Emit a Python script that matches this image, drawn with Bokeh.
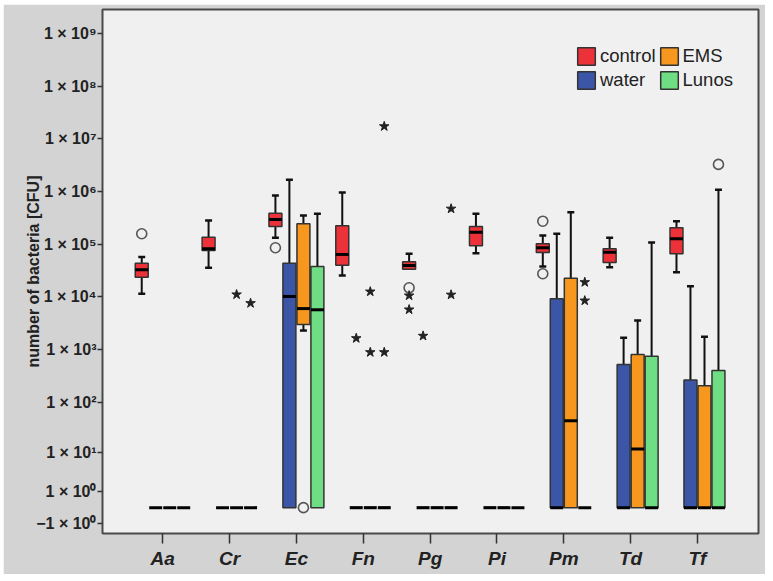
import math
from bokeh.plotting import figure
from bokeh.models import FixedTicker, Legend, LegendItem
from bokeh.embed import file_html
from bokeh.resources import INLINE

categories = ["Aa", "Cr", "Ec", "Fn", "Pg", "Pi", "Pm", "Td", "Tf"]
groups = ["control", "water", "EMS", "Lunos"]
group_colors = ["#ec3238", "#3b56a6", "#f7971e", "#6edd84"]

# five-number summaries in CFU (lower whisker, Q1, median, Q3, upper whisker)
control_low = [1.15e4, 3.57e4, 1.33e5, 2.55e4, 3.36e4, 6.76e4, 3.78e4, 3.66e4, 2.94e4]
control_q1 = [2.37e4, 7.6e4, 2.17e5, 4.0e4, 3.36e4, 9.35e4, 6.97e4, 4.5e4, 6.6e4]
control_med = [3.27e4, 8.2e4, 2.96e5, 6.4e4, 3.95e4, 1.69e5, 8.57e4, 7.06e4, 1.27e5]
control_q3 = [4.37e4, 1.36e5, 3.89e5, 2.24e5, 4.64e4, 2.17e5, 1.02e5, 8.2e4, 2.05e5]
control_high = [5.7e4, 2.83e5, 8.45e5, 9.6e5, 6.6e4, 3.79e5, 1.47e5, 1.33e5, 2.74e5]

water_low = [0, 0, 0, 0, 0, 0, 0, 0, 0]
water_q1 = [0, 0, 0, 0, 0, 0, 0, 0, 0]
water_med = [0, 0, 1.02e4, 0, 0, 0, 0, 0, 0]
water_q3 = [0, 0, 4.37e4, 0, 0, 0, 9.2e3, 518, 264]
water_high = [0, 0, 1.68e6, 0, 0, 0, 1.58e5, 1.67e3, 1.6e4]

ems_low = [0, 0, 2.3e3, 0, 0, 0, 0, 0, 0]
ems_q1 = [0, 0, 2.99e3, 0, 0, 0, 0, 0, 0]
ems_med = [0, 0, 6.0e3, 0, 0, 0, 43.8, 12.0, 0]
ems_q3 = [0, 0, 2.45e5, 0, 0, 0, 2.26e4, 803, 206]
ems_high = [0, 0, 3.52e5, 0, 0, 0, 4.07e5, 3.56e3, 1.76e3]

lunos_low = [0, 0, 0, 0, 0, 0, 0, 0, 0]
lunos_q1 = [0, 0, 0, 0, 0, 0, 0, 0, 0]
lunos_med = [0, 0, 5.7e3, 0, 0, 0, 0, 0, 0]
lunos_q3 = [0, 0, 3.78e4, 0, 0, 0, 0, 746, 398]
lunos_high = [0, 0, 3.79e5, 0, 0, 0, 0, 1.08e5, 1.08e6]

# outliers (o) and extreme values (*)
circle_cat = ["Aa", "Ec", "Ec", "Pg", "Pm", "Pm", "Tf"]
circle_group = ["control", "control", "EMS", "control", "control", "control", "Lunos"]
circle_value = [1.58e5, 8.57e4, 0, 1.49e4, 2.74e5, 2.75e4, 3.28e6]

star_cat = ["Cr", "Cr", "Fn", "Fn", "Fn", "Fn", "Fn", "Pg", "Pg", "Pg", "Pg", "Pg", "Pm", "Pm"]
star_group = ["EMS", "Lunos", "Lunos", "EMS", "water", "EMS", "Lunos",
              "control", "control", "water", "Lunos", "Lunos", "Lunos", "Lunos"]
star_value = [1.11e4, 7.6e3, 1.73e7, 1.26e4, 1.64e3, 889, 889,
              1.06e4, 5.75e3, 1.82e3, 4.72e5, 1.10e4, 1.9e4, 8.5e3]

tick_values = [1e9, 1e8, 1e7, 1e6, 1e5, 1e4, 1e3, 1e2, 1e1, 1, -1]
tick_labels = ["1 × 10⁹", "1 × 10⁸", "1 × 10⁷", "1 × 10⁶", "1 × 10⁵", "1 × 10⁴",
               "1 × 10³", "1 × 10²", "1 × 10¹", "1 × 10⁰", "−1 × 10⁰"]

stats = {
    "control": (control_low, control_q1, control_med, control_q3, control_high),
    "water": (water_low, water_q1, water_med, water_q3, water_high),
    "EMS": (ems_low, ems_q1, ems_med, ems_q3, ems_high),
    "Lunos": (lunos_low, lunos_q1, lunos_med, lunos_q3, lunos_high),
}


def safelog(v):
    return math.copysign(math.log10(1 + abs(v)), v) if v != 0 else 0.0


offsets = [-0.314, -0.105, 0.105, 0.314]
box_w = 0.194
cap_hw = 0.052

p = figure(width=762, height=570, x_range=(-0.901, 8.913), y_range=(-0.491, 9.456),
           output_backend="svg", toolbar_location=None, margin=(4, 0, 0, 3),
           min_border_left=99, min_border_right=7, min_border_top=5, min_border_bottom=41)
p.background_fill_color = "#f0f0f0"
p.border_fill_color = "#d3d3d3"
p.outline_line_color = "#4a4a4a"
p.outline_line_width = 2
p.grid.visible = False

legend_items = {}
for gi, g in enumerate(groups):
    low, q1, med, q3, high = stats[g]
    xs = [i + offsets[gi] for i in range(len(categories))]
    bx, bb, bt = [], [], []
    wx0, wy0, wy1 = [], [], []
    cx0, cx1, cy = [], [], []
    for i, x in enumerate(xs):
        if q3[i] > q1[i]:
            bx.append(x); bb.append(safelog(q1[i])); bt.append(safelog(q3[i]))
        if high[i] > q3[i]:
            wx0.append(x); wy0.append(safelog(q3[i])); wy1.append(safelog(high[i]))
            cx0.append(x - cap_hw); cx1.append(x + cap_hw); cy.append(safelog(high[i]))
        if low[i] < q1[i]:
            wx0.append(x); wy0.append(safelog(q1[i])); wy1.append(safelog(low[i]))
            cx0.append(x - cap_hw); cx1.append(x + cap_hw); cy.append(safelog(low[i]))
    p.segment(x0=wx0, y0=wy0, x1=wx0, y1=wy1, line_color="#111111", line_width=2)
    p.segment(x0=cx0, y0=cy, x1=cx1, y1=cy, line_color="#111111", line_width=2.5)
    r = p.vbar(x=bx, bottom=bb, top=bt, width=box_w, fill_color=group_colors[gi],
               line_color="#333333", line_width=1.5)
    legend_items[g] = r
    mx0 = [x - box_w / 2 for x in xs]
    mx1 = [x + box_w / 2 for x in xs]
    my = [safelog(v) for v in med]
    p.segment(x0=mx0, y0=my, x1=mx1, y1=my, line_color="black", line_width=3)

gidx = {g: i for i, g in enumerate(groups)}
cidx = {c: i for i, c in enumerate(categories)}
cxs = [cidx[c] + offsets[gidx[g]] for c, g in zip(circle_cat, circle_group)]
cys = [safelog(v) for v in circle_value]
p.scatter(cxs, cys, marker="circle", size=10, fill_color=None, line_color="#555555", line_width=1.6)
sxs = [cidx[c] + offsets[gidx[g]] for c, g in zip(star_cat, star_group)]
sys_ = [safelog(v) for v in star_value]
p.scatter(sxs, sys_, marker="star", size=10, fill_color="#222222", line_color="#222222")

# axes
p.xaxis.ticker = FixedTicker(ticks=list(range(len(categories))))
p.xaxis.major_label_overrides = {i: c for i, c in enumerate(categories)}
p.xaxis.major_label_text_font = "Liberation Sans"
p.xaxis.major_label_text_font_style = "bold italic"
p.xaxis.major_label_text_font_size = "19px"
p.xaxis.major_label_text_color = "#222222"
p.xaxis.major_tick_out = 10
p.xaxis.major_tick_in = 0
p.xaxis.minor_tick_line_color = None
p.xaxis.axis_line_color = None
p.xaxis.major_tick_line_color = "#333333"
p.xaxis.major_tick_line_width = 1.5
p.xaxis.major_label_standoff = 4

yt = [round(safelog(v), 6) for v in tick_values]
p.yaxis.ticker = FixedTicker(ticks=yt)
p.yaxis.major_label_overrides = {t: l for t, l in zip(yt, tick_labels)}
p.yaxis.major_label_text_font = "Liberation Sans"
p.yaxis.major_label_text_font_style = "bold"
p.yaxis.major_label_text_font_size = "16px"
p.yaxis.major_label_text_color = "#222222"
p.yaxis.major_tick_out = 5
p.yaxis.major_tick_in = 0
p.yaxis.minor_tick_line_color = None
p.yaxis.axis_line_color = None
p.yaxis.major_tick_line_color = "#333333"
p.yaxis.major_tick_line_width = 1.5
p.yaxis.major_label_standoff = 1
p.yaxis.axis_label = "number of bacteria [CFU]"
p.yaxis.axis_label_text_font = "Liberation Sans"
p.yaxis.axis_label_text_font_style = "bold"
p.yaxis.axis_label_text_font_size = "16px"
p.yaxis.axis_label_text_color = "#222222"
p.yaxis.axis_label_standoff = -9

legend = Legend(items=[LegendItem(label="control", renderers=[legend_items["control"]]),
                       LegendItem(label="water", renderers=[legend_items["water"]]),
                       LegendItem(label="EMS", renderers=[legend_items["EMS"]]),
                       LegendItem(label="Lunos", renderers=[legend_items["Lunos"]])],
                location=(473, 442), orientation="vertical", ncols=2,
                glyph_width=22, glyph_height=22, label_height=22, label_standoff=3,
                spacing=2, padding=0, margin=0,
                label_text_font="Liberation Sans", label_text_font_size="18.5px",
                label_text_color="#222222",
                border_line_color=None, background_fill_color=None)
p.add_layout(legend)

open("out.html", "w").write(file_html(p, INLINE))
